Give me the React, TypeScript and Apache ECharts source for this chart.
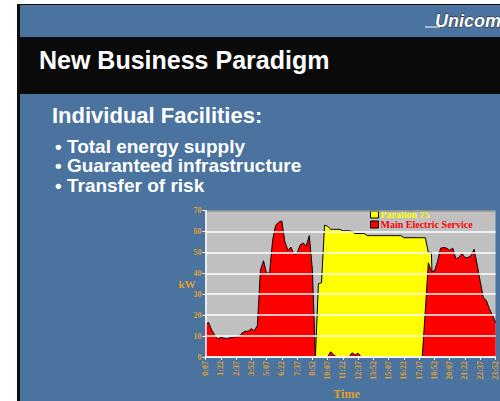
import React, { useEffect, useRef } from "react";
import * as echarts from "echarts";

const timeLabels = [
  "0:07","0:22","0:37","0:52","1:07","1:22","1:37","1:52","2:07","2:22","2:37","2:52",
  "3:07","3:22","3:37","3:52","4:07","4:22","4:37","4:52","5:07","5:22","5:37","5:52",
  "6:07","6:22","6:37","6:52","7:07","7:22","7:37","7:52","8:07","8:22","8:37","8:52",
  "9:07","9:22","9:37","9:52","10:07","10:22","10:37","10:52","11:07","11:22","11:37","11:52",
  "12:07","12:22","12:37","12:52","13:07","13:22","13:37","13:52","14:07","14:22","14:37","14:52",
  "15:07","15:22","15:37","15:52","16:07","16:22","16:37","16:52","17:07","17:22","17:37","17:52",
  "18:07","18:22","18:37","18:52","19:07","19:22","19:37","19:52","20:07","20:22","20:37","20:52",
  "21:07","21:22","21:37","21:52","22:07","22:22","22:37","22:52","23:07","23:22","23:37","23:52",
];

const paralion75 = [
  0,0,0,0,0,0,0,0,0,0,0,0,0,0,0,0,0,0,0,0,0,0,0,0,0,0,0,0,0,0,0,0,0,0,0,0,0,
  35,35.5,63,62.5,61,61,61,61,60.3,60.3,60.3,60,59,59,59,59,
  58,58,58,58,58,58,58,58,58,58,58,58,
  57,57,57,57,57,57,57,57,
  50,50,
  0,0,0,0,0,0,0,0,0,0,0,0,0,0,0,0,0,0,0,0,0,
];

const mainElectric = [
  15.5,16.5,13,10.5,8.5,9.5,9,8.8,9.2,9.2,9.8,9.6,11.5,12.3,12.3,13.5,12.5,15,
  41.5,46,40,40.2,56,63,64.5,65,55,51,52.5,49,49.5,53.5,54.5,53,58,42,
  0,0,0,0,0,2.5,1,0,0,0,0,0,2,1,1.8,
  0,0,0,0,0,0,0,0,0,0,0,0,0,0,0,0,0,0,0,0,0,
  22,45,41,41,45.5,52,52.3,52,51,52,47,47.5,49.5,47.5,47.5,48.5,51.5,44,36,28.5,27,23,20,16.5,
];

const yTicks = { min: 0, max: 70, interval: 10 };

const title = "New Business Paradigm";
const subTitle = "Individual Facilities:";
const bullets = ["• Total energy supply", "• Guaranteed infrastructure", "• Transfer of risk"];

const ORANGE = "#e0a030";
const BLUE = "#4a73a0";
const SERIF = "'Liberation Serif', 'Times New Roman', serif";
const SANS = "'Liberation Sans', Arial, sans-serif";

export default function App() {
  const ref = useRef<HTMLDivElement>(null);
  useEffect(() => {
    if (!ref.current) return;
    const chart = echarts.init(ref.current, undefined, { renderer: "svg" });
    const bulletY = [146.5, 165.5, 185];
    chart.setOption({
      animation: false,
      backgroundColor: "#ffffff",
      graphic: [
        { type: "rect", z: -10, shape: { x: 17, y: 4, width: 483, height: 397 }, style: { fill: "#0d0d0d" } },
        { type: "rect", z: -9, shape: { x: 20, y: 5, width: 480, height: 396 }, style: { fill: BLUE } },
        { type: "rect", z: -8, shape: { x: 20, y: 37, width: 480, height: 57 }, style: { fill: "#0a0a0a" } },
        { type: "line", z: -7, shape: { x1: 425, y1: 27, x2: 440, y2: 27 }, style: { stroke: "#ffffff", lineWidth: 1 } },
        {
          type: "text", z: -5, x: 435, y: 21,
          style: { text: "Unicom", font: `italic bold 18px ${SANS}`, fill: "#ffffff", stroke: "#1a1a1a", lineWidth: 0.8, textVerticalAlign: "middle" },
        },
        {
          type: "text", z: -5, x: 39, y: 60,
          style: { text: title, font: `bold 25px ${SANS}`, fill: "#ffffff", textVerticalAlign: "middle" },
        },
        {
          type: "text", z: -5, x: 52, y: 115.5,
          style: { text: subTitle, font: `bold 22px ${SANS}`, fill: "#ffffff", textVerticalAlign: "middle" },
        },
        ...bullets.map((b, i) => ({
          type: "text", z: -5, x: 55, y: bulletY[i],
          style: { text: b, font: `bold 19px ${SANS}`, fill: "#ffffff", textVerticalAlign: "middle" },
        })),
      ],
      grid: {
        left: 205.5, right: 4.5, top: 210.5, bottom: 41.5,
        show: true, backgroundColor: "#c0c0c0", borderWidth: 0,
      },
      legend: {
        orient: "vertical",
        left: 370, top: 209.5,
        padding: 0,
        itemGap: 0,
        itemWidth: 8, itemHeight: 7,
        icon: "rect",
        data: [
          { name: "Paralion 75", itemStyle: { color: "#ffff00", borderColor: "#000", borderWidth: 1 }, textStyle: { color: "#ffff00" } },
          { name: "Main Electric Service", itemStyle: { color: "#ff0000", borderColor: "#000", borderWidth: 1 }, textStyle: { color: "#ff0000" } },
        ],
        textStyle: { fontFamily: SERIF, fontWeight: "bold", fontSize: 10, lineHeight: 10, padding: [0, 0, 0, -3] },
      },
      xAxis: {
        type: "category",
        data: timeLabels,
        boundaryGap: false,
        z: 10,
        name: "Time",
        nameLocation: "middle",
        nameGap: 31,
        nameTextStyle: { color: ORANGE, fontFamily: SERIF, fontWeight: "bold", fontSize: 12, padding: [0, 8, 0, 0] },
        axisLine: { lineStyle: { color: "#ffffff", width: 1.5 } },
        axisTick: { interval: 4, length: 3, lineStyle: { color: "#ffffff" } },
        axisLabel: { interval: 4, rotate: 90, color: ORANGE, fontFamily: SERIF, fontWeight: "bold", fontSize: 8, margin: 4 },
        splitLine: { show: false },
      },
      yAxis: {
        type: "value",
        min: yTicks.min, max: yTicks.max, interval: yTicks.interval,
        z: 10,
        name: "kW",
        nameLocation: "middle",
        nameRotate: 0,
        nameGap: 10,
        nameMoveOverlap: false,
        nameTextStyle: { color: ORANGE, fontFamily: SERIF, fontWeight: "bold", fontSize: 11 },
        axisLine: { show: true, lineStyle: { color: "#ffffff", width: 1.5 } },
        axisTick: { show: true, length: 3, lineStyle: { color: "#ffffff" } },
        axisLabel: { color: ORANGE, fontFamily: SERIF, fontWeight: "bold", fontSize: 8, margin: 4 },
        splitLine: { show: true, lineStyle: { color: ["#ffffff","#ffffff","#ffffff","#ffffff","#ffffff","#ffffff","#ffffff","#909090"], width: 1.5 } },
      },
      series: [
        {
          name: "Paralion 75", type: "line", data: paralion75, showSymbol: false, symbol: "none",
          lineStyle: { color: "#000", width: 1 }, itemStyle: { color: "#ffff00" },
          areaStyle: { color: "#ffff00", opacity: 1 }, z: 2,
        },
        {
          name: "Main Electric Service", type: "line", data: mainElectric, showSymbol: false, symbol: "none",
          lineStyle: { color: "#000", width: 1 }, itemStyle: { color: "#ff0000" },
          areaStyle: { color: "#ff0000", opacity: 1 }, z: 3,
        },
      ],
    });
    return () => chart.dispose();
  }, []);
  return <div ref={ref} style={{ position: "fixed", left: 0, top: 0, width: 500, height: 401 }} />;
}
